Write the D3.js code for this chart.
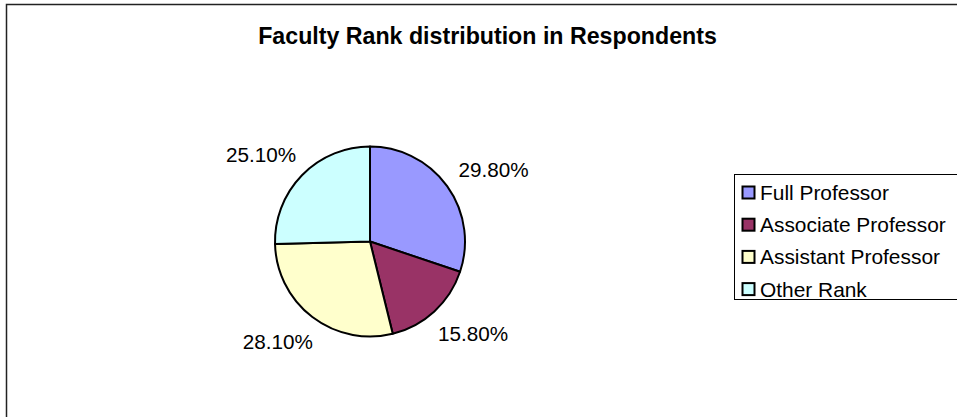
<!DOCTYPE html>
<html>
<head>
<meta charset="utf-8">
<script src="https://cdn.jsdelivr.net/npm/d3@7"></script>
<style>
  html, body { margin: 0; padding: 0; background: #fff; }
  svg { display: block; font-family: "Liberation Sans", Arial, sans-serif; }
</style>
</head>
<body>
<svg id="chart" width="957" height="417"></svg>
<script>
// Faculty rank shares among respondents (percent)
const categories = ["Full Professor", "Associate Professor", "Assistant Professor", "Other Rank"];
const values = [29.8, 15.8, 28.1, 25.1];
const valueLabels = ["29.80%", "15.80%", "28.10%", "25.10%"];
const colors = ["#9999FF", "#993366", "#FFFFCC", "#CCFFFF"];
const title = "Faculty Rank distribution in Respondents";

const svg = d3.select("#chart");

// Outer chart frame (runs past the right and bottom edges)
svg.append("rect")
  .attr("x", 6.5).attr("y", 4.5)
  .attr("width", 1000).attr("height", 500)
  .attr("fill", "#fff")
  .attr("stroke", "#222").attr("stroke-width", 1.5);

// Title
svg.append("text")
  .attr("x", 487.5).attr("y", 44)
  .attr("text-anchor", "middle")
  .attr("font-weight", "bold")
  .attr("font-size", "23.2px")
  .attr("fill", "#000")
  .text(title);

// Pie
const cx = 370, cy = 241.5, r = 95;
const data = categories.map((c, i) => ({ cat: c, value: values[i], label: valueLabels[i], color: colors[i] }));
const pie = d3.pie().value(d => d.value).sort(null);
const arc = d3.arc().innerRadius(0).outerRadius(r);
const arcs = pie(data);

const g = svg.append("g").attr("transform", `translate(${cx},${cy})`);
g.selectAll("path.slice")
  .data(arcs)
  .join("path")
  .attr("class", "slice")
  .attr("d", arc)
  .attr("fill", d => d.data.color)
  .attr("stroke", "#000")
  .attr("stroke-width", 2)
  .attr("stroke-linejoin", "round");

// Value labels placed just outside each slice's mid-angle
const labelR = r + 22;
const labelSize = 20.7;
const capH = 16;
g.selectAll("text.val")
  .data(arcs)
  .join("text")
  .attr("class", "val")
  .attr("font-size", labelSize + "px")
  .attr("fill", "#000")
  .attr("text-anchor", "middle")
  .text(d => d.data.label)
  .each(function(d) {
    const a = (d.startAngle + d.endAngle) / 2;
    const w = this.getComputedTextLength();
    const ax = labelR * Math.sin(a), ay = -labelR * Math.cos(a);
    const bx = ax + (w / 2) * Math.sin(a);
    const by = ay - (capH / 2) * Math.cos(a);
    d3.select(this).attr("x", bx).attr("y", by + capH / 2);
  });

// Legend
const lx = 734, ly = 174;
svg.append("rect")
  .attr("x", lx + 0.5).attr("y", ly + 0.5)
  .attr("width", 300).attr("height", 125)
  .attr("fill", "#fff")
  .attr("stroke", "#000").attr("stroke-width", 1);

const legendRow = svg.selectAll("g.leg")
  .data(data)
  .join("g")
  .attr("class", "leg")
  .attr("transform", (d, i) => `translate(${lx}, ${ly + 26 + i * 32.2})`);

legendRow.append("rect")
  .attr("x", 8.5).attr("y", -13.5)
  .attr("width", 12).attr("height", 12)
  .attr("fill", d => d.color)
  .attr("stroke", "#000").attr("stroke-width", 2);

legendRow.append("text")
  .attr("x", 26).attr("y", 0)
  .attr("font-size", "20.9px")
  .attr("fill", "#000")
  .text(d => d.cat);
</script>
</body>
</html>
